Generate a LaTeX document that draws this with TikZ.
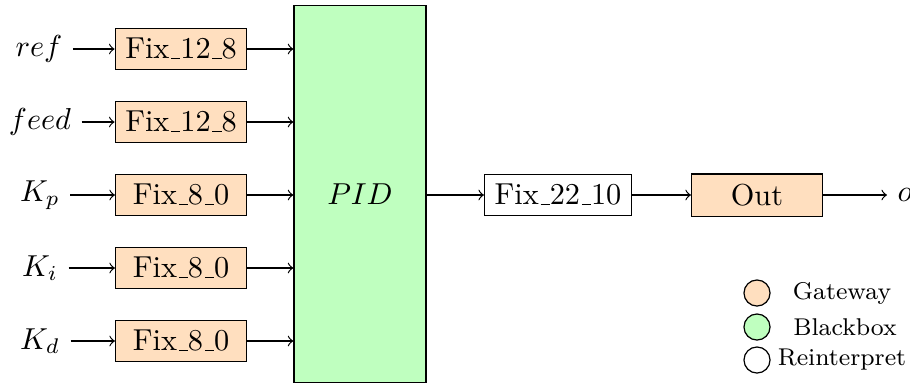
\documentclass[tikz,border=0pt]{standalone}
\usetikzlibrary{calc}
\definecolor{gwfill}{RGB}{255,223,191}
\definecolor{bbfill}{RGB}{191,255,191}
\newcommand{\usc}{\leavevmode\kern.06em\vbox{\hrule width.3em}}
\tikzset{
  gw/.style={draw, fill=gwfill, minimum width=43.2pt, minimum height=12.9pt},
  ri/.style={draw, fill=white, minimum height=12.9pt},
  bb/.style={draw, fill=bbfill, minimum width=43.6pt, minimum height=124.4pt, inner sep=0pt},
  lbl/.style={inner sep=3.3pt},
  conn/.style={->},
  legc/.style={draw, circle, minimum size=8.6pt, inner sep=0pt},
  legt/.style={font=\footnotesize, inner sep=0pt}
}
\begin{document}
\begin{tikzpicture}[x=0.33pt, y=-0.33pt]
\useasboundingbox (0,0) rectangle (910,385);
% PID block
\node[bb] (pid) at (360,194) {$PID$};
% inputs
\node[lbl] (l1) at (39,49) {$ref$};
\node[lbl] (l2) at (40,122) {$feed$};
\node[lbl] (l3) at (40,195) {$K_p$};
\node[lbl] (l4) at (40,268) {$K_i$};
\node[lbl] (l5) at (40,341) {$K_d$};
\node[gw] (g1) at (181,49) {Fix\usc12\usc8};
\node[gw] (g2) at (181,122) {Fix\usc12\usc8};
\node[gw] (g3) at (181,195) {Fix\usc8\usc0};
\node[gw] (g4) at (181,268) {Fix\usc8\usc0};
\node[gw] (g5) at (181,341) {Fix\usc8\usc0};
\foreach \i in {1,...,5}{
  \draw[conn] (l\i) -- (g\i);
  \draw[conn] (g\i.east) -- (g\i.east -| pid.west);
}
% output chain
\node[ri] (fx) at (558,195) {Fix\usc22\usc10};
\node[gw] (out) at (757,195) {Out};
\node[lbl, anchor=west] (o) at (887,195) {$o$};
\draw[conn] (pid.east |- fx.west) -- (fx.west);
\draw[conn] (fx) -- (out);
\draw[conn] (out) -- (o);
% legend
\node[legc, fill=gwfill] (c1) at (757,293) {};
\node[legc, fill=bbfill] (c2) at (757,327) {};
\node[legc, fill=white] (c3) at (757,360) {};
\node[legt] (t1) at (842,293) {Gateway};
\node[legt] (t2) at (845,327) {Blackbox};
\node[legt] (t3) at (842,360) {Reinterpret};
\end{tikzpicture}
\end{document}
